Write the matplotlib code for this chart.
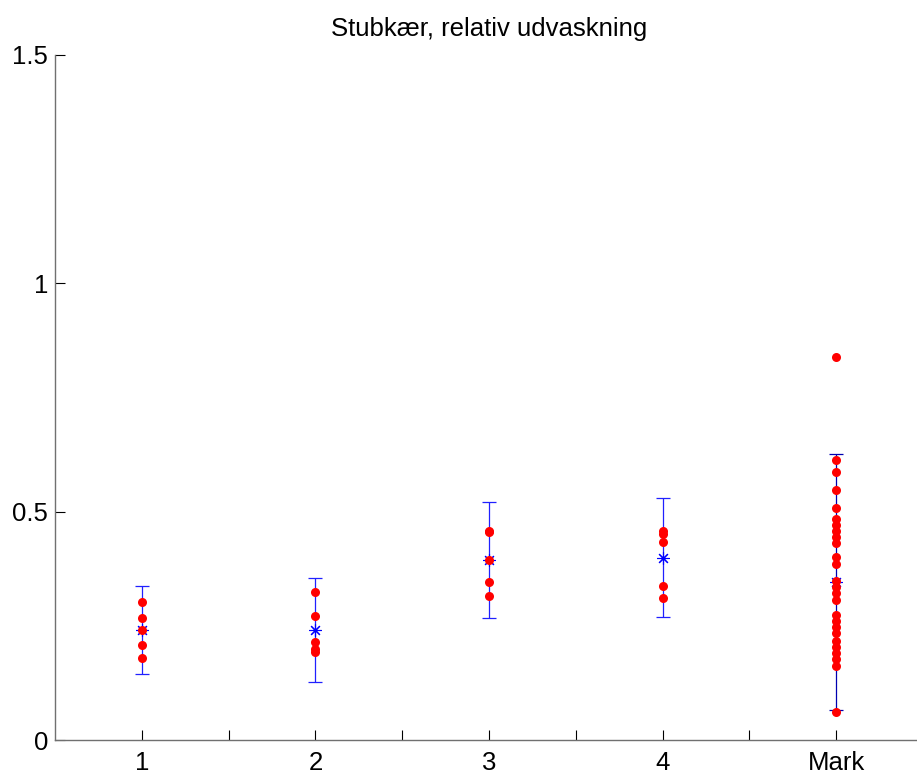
import numpy as np
import matplotlib
matplotlib.use("Agg")
import matplotlib.pyplot as plt

plt.rcParams['font.family'] = ['Liberation Sans', 'DejaVu Sans']

# data
groups = ['1', '2', '3', '4', 'Mark']
means = [0.241, 0.241, 0.394, 0.398, 0.347]
err_low = [0.097, 0.113, 0.126, 0.129, 0.281]
err_high = [0.096, 0.114, 0.128, 0.133, 0.280]

points = [
    [0.303, 0.268, 0.241, 0.207, 0.180],
    [0.325, 0.272, 0.215, 0.199, 0.192],
    [0.456, 0.458, 0.394, 0.347, 0.316],
    [0.458, 0.451, 0.434, 0.337, 0.312],
    [0.838, 0.613, 0.587, 0.547, 0.509, 0.484, 0.470, 0.457, 0.445, 0.432,
     0.400, 0.385, 0.348, 0.335, 0.322, 0.307, 0.274, 0.260, 0.247, 0.234,
     0.217, 0.204, 0.190, 0.177, 0.162, 0.062],
]

line_colors = ['#2020ff', '#2020ff', '#2020ff', '#2020ff', '#0000b0']

fig = plt.figure(figsize=(9.17, 7.76), dpi=100)
ax = fig.add_axes([55 / 917, 36 / 776, 868 / 917, 685 / 776])

xs = np.arange(1, len(groups) + 1)
for i, x in enumerate(xs):
    ax.errorbar([x], [means[i]], yerr=[[err_low[i]], [err_high[i]]],
                fmt='none', ecolor=line_colors[i], elinewidth=0.9,
                capsize=5, capthick=0.9, zorder=2)
    ax.plot([x], [means[i]], linestyle='none', marker=(8, 2, 0),
            markersize=9, markeredgewidth=0.8, color='#0000ff', zorder=3)
    ax.plot(np.full(len(points[i]), x), points[i], 'o', color='#ff0000',
            markersize=6.5, markeredgewidth=0, zorder=4)

ax.set_xlim(0.5, 5.5)
ax.set_ylim(0, 1.5)
ax.set_xticks(xs)
ax.set_xticklabels(groups)
ax.set_xticks(xs[:-1] + 0.5, minor=True)
ax.set_yticks([0, 0.5, 1, 1.5])
ax.set_yticklabels(['0', '0.5', '1', '1.5'])

ax.tick_params(axis='both', which='both', direction='in', length=7,
               width=0.8, colors='black', labelsize=18.5)
ax.tick_params(axis='x', pad=8)
ax.tick_params(axis='y', pad=5)

for side in ['top', 'right']:
    ax.spines[side].set_visible(False)
for side in ['left', 'bottom']:
    ax.spines[side].set_color('#707070')
    ax.spines[side].set_linewidth(1.0)

ax.set_title('Stubkær, relativ udvaskning', fontsize=18.5, pad=14)

fig.savefig('out.png', dpi=100)
